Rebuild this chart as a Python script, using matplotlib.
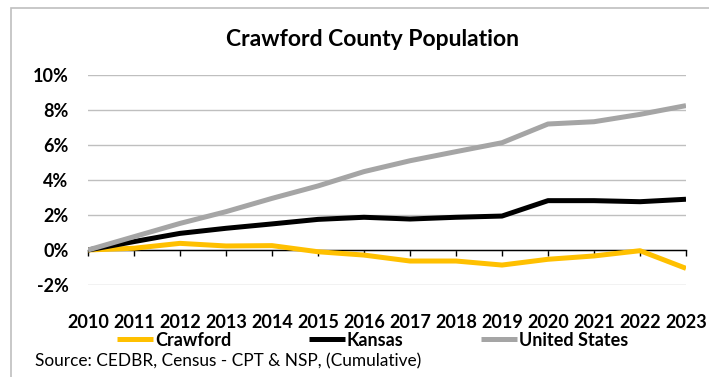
import matplotlib.pyplot as plt
from matplotlib.patches import Rectangle
from matplotlib.ticker import FuncFormatter

# ---------- Data (cumulative % change since 2010) ----------
years = ["2010", "2011", "2012", "2013", "2014", "2015", "2016",
         "2017", "2018", "2019", "2020", "2021", "2022", "2023"]
crawford = [0.0, 0.10, 0.38, 0.23, 0.25, -0.10, -0.29,
            -0.63, -0.63, -0.86, -0.53, -0.34, -0.04, -1.05]
kansas = [0.0, 0.48, 0.95, 1.24, 1.49, 1.75, 1.87,
          1.77, 1.87, 1.94, 2.82, 2.82, 2.76, 2.90]
united_states = [0.0, 0.76, 1.52, 2.19, 2.95, 3.66, 4.48,
                 5.10, 5.62, 6.13, 7.20, 7.33, 7.75, 8.25]
y_ticks = [-2, 0, 2, 4, 6, 8, 10]

FONT = "Lato"
plt.rcParams["font.family"] = [FONT, "DejaVu Sans"]

fig = plt.figure(figsize=(7.09, 3.77), dpi=100)
ax = fig.add_axes([88/709, 1 - 285/377, (686 - 88)/709, (285 - 75)/377])

x = list(range(len(years)))
ax.plot(x, crawford, color="#FFC000", lw=3.6, label="Crawford", solid_capstyle="butt")
ax.plot(x, kansas, color="#000000", lw=3.6, label="Kansas", solid_capstyle="butt")
ax.plot(x, united_states, color="#A5A5A5", lw=3.6, label="United States", solid_capstyle="butt")

ax.set_xlim(0, len(years) - 1)
ax.set_ylim(-2, 10)
ax.set_yticks(y_ticks)
ax.yaxis.set_major_formatter(FuncFormatter(lambda v, p: f"{v:.0f}%"))
ax.grid(axis="y", color="#BFBFBF", lw=1)
ax.set_axisbelow(True)

for s in ["left", "right", "top"]:
    ax.spines[s].set_visible(False)
ax.spines["bottom"].set_position(("data", 0))
ax.spines["bottom"].set_color("black")
ax.spines["bottom"].set_linewidth(1)
ax.spines["bottom"].set_zorder(1.5)

ax.set_xticks(x)
ax.set_xticklabels(years)
ax.tick_params(axis="x", direction="out", length=4, width=1, color="black",
               pad=42, labelsize=13)
for lbl in ax.get_xticklabels():
    lbl.set_fontweight("bold")
ax.tick_params(axis="y", length=0, pad=14, labelsize=13)
for lbl in ax.get_yticklabels():
    lbl.set_fontweight("bold")

fig.text(372/709, 1 - 40/377, "Crawford County Population", ha="center", va="center",
         fontsize=16.5, fontweight="bold")

fig.legend(loc="center left", bbox_to_anchor=(117/709, 1 - 340/377), ncol=3,
           frameon=False, handlelength=2.0, handletextpad=0.1, columnspacing=4.3,
           prop={"family": FONT, "weight": "bold", "size": 13}, borderaxespad=0,
           borderpad=0)

fig.text(35/709, 1 - 361/377, "Source: CEDBR, Census - CPT & NSP, (Cumulative)",
         ha="left", va="center", fontsize=12.4)

fig.patches.append(Rectangle((11/709, -0.1), 1.2, 1.1 - 8/377, transform=fig.transFigure,
                             fill=False, edgecolor="#BFBFBF", lw=1.2))

plt.savefig("out.png", dpi=100)
